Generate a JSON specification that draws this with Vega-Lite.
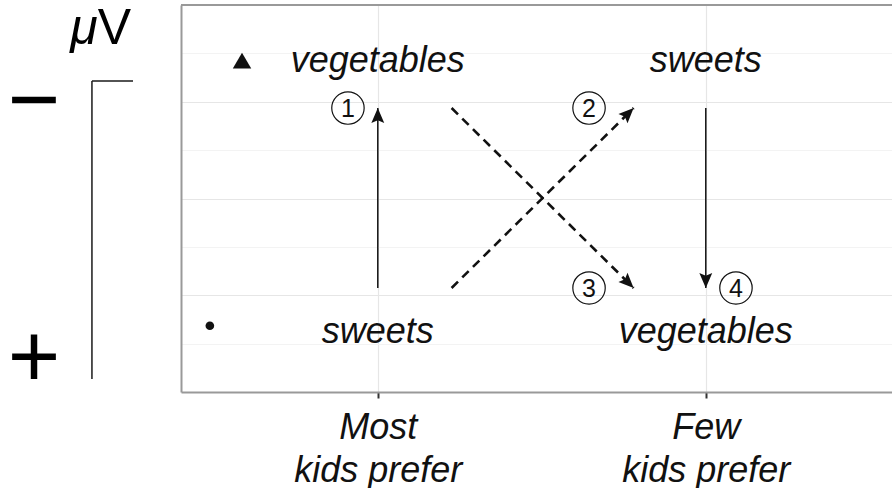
{
  "$schema": "https://vega.github.io/schema/vega-lite/v6.json",
  "padding": {"left": 0, "top": 4, "right": 0, "bottom": 0},
  "background": "white",
  "config": {"font": "Liberation Sans", "view": {"stroke": null}},
  "spacing": 0,
  "bounds": "flush",
  "hconcat": [
    {
      "width": 181,
      "height": 387,
      "layer": [
        {
          "data": {"values": [
            {"part": "stem", "x": 0.508, "x2": 0.508, "y": 6.43, "y2": 0.27},
            {"part": "cap", "x": 0.508, "x2": 0.735, "y": 6.43, "y2": 6.43}
          ]},
          "mark": {"type": "rule", "color": "#1a1a1a", "strokeWidth": 1.5},
          "encoding": {
            "x": {"field": "x", "type": "quantitative", "scale": {"domain": [0, 1], "nice": false, "zero": false}, "axis": null},
            "x2": {"field": "x2"},
            "y": {"field": "y", "type": "quantitative", "scale": {"domain": [0, 8], "nice": false, "zero": false}, "axis": null},
            "y2": {"field": "y2"}
          }
        },
        {
          "data": {"values": [{"label": "μ", "x": 0.54, "y": 7.5}]},
          "mark": {"type": "text", "align": "right", "baseline": "middle", "fontSize": 50, "fontStyle": "italic", "color": "black"},
          "encoding": {
            "x": {"field": "x", "type": "quantitative", "axis": null},
            "y": {"field": "y", "type": "quantitative", "axis": null},
            "text": {"field": "label"}
          }
        },
        {
          "data": {"values": [{"label": "V", "x": 0.54, "y": 7.5}]},
          "mark": {"type": "text", "align": "left", "baseline": "middle", "fontSize": 50, "color": "black"},
          "encoding": {
            "x": {"field": "x", "type": "quantitative", "axis": null},
            "y": {"field": "y", "type": "quantitative", "axis": null},
            "text": {"field": "label"}
          }
        },
        {
          "data": {"values": [
            {"label": "−", "x": 0.188, "y": 5.97},
            {"label": "+", "x": 0.188, "y": 0.66}
          ]},
          "mark": {"type": "text", "align": "center", "baseline": "middle", "fontSize": 90, "color": "black"},
          "encoding": {
            "x": {"field": "x", "type": "quantitative", "axis": null},
            "y": {"field": "y", "type": "quantitative", "axis": null},
            "text": {"field": "label"}
          }
        }
      ]
    },
    {
      "width": 711,
      "height": 387,
      "layer": [
        {
          "data": {"values": [{"edge": "top"}]},
          "mark": {"type": "rule", "color": "#999999", "strokeWidth": 2},
          "encoding": {"y": {"datum": 8, "type": "quantitative"}}
        },
        {
          "data": {"name": "arrows", "values": [
            {"arrow": 1, "style": "solid", "x": 1, "y": 2.15, "x2": 1, "y2": 5.87, "heading": 0},
            {"arrow": 2, "style": "dashed", "x": 1.225, "y": 2.15, "x2": 1.78, "y2": 5.87, "heading": 45.3},
            {"arrow": 3, "style": "dashed", "x": 1.225, "y": 5.87, "x2": 1.78, "y2": 2.15, "heading": 134.7},
            {"arrow": 4, "style": "solid", "x": 2, "y": 5.87, "x2": 2, "y2": 2.15, "heading": 180}
          ]},
          "transform": [{"filter": "datum.style == 'solid'"}],
          "mark": {"type": "rule", "color": "#111111", "strokeWidth": 1.5},
          "encoding": {
            "x": {"field": "x", "type": "quantitative",
              "scale": {"domain": [0.4, 2.5677], "nice": false, "zero": false},
              "axis": {"values": [1, 2], "title": null, "grid": true, "gridColor": "#e6e6e6", "gridWidth": 1.2,
                "domainColor": "#999999", "domainWidth": 2, "tickColor": "#333333", "tickWidth": 2, "tickSize": 6,
                "labelFont": "Liberation Sans", "labelFontStyle": "italic", "labelFontSize": 36, "labelColor": "#111111",
                "labelPadding": 12, "labelBaseline": "top", "labelLineHeight": 43, "labelFlush": false, "labelOverlap": false,
                "labelExpr": "datum.value == 1 ? ['Most', 'kids prefer'] : ['Few', 'kids prefer']"}},
            "x2": {"field": "x2"},
            "y": {"field": "y", "type": "quantitative",
              "scale": {"domain": [0, 8], "nice": false, "zero": false},
              "axis": {"values": [1, 2, 3, 4, 5, 6, 7], "title": null, "labels": false, "ticks": false, "grid": true,
                "gridColor": {"condition": {"test": "datum.value % 2 === 0", "value": "#e6e6e6"}, "value": "#f3f3f3"},
                "gridWidth": 1.2, "domainColor": "#999999", "domainWidth": 2}},
            "y2": {"field": "y2"}
          }
        },
        {
          "data": {"name": "arrows"},
          "transform": [{"filter": "datum.style == 'dashed'"}],
          "mark": {"type": "rule", "color": "#111111", "strokeWidth": 2.6, "strokeDash": [9, 6]},
          "encoding": {
            "x": {"field": "x", "type": "quantitative"},
            "x2": {"field": "x2"},
            "y": {"field": "y", "type": "quantitative"},
            "y2": {"field": "y2"}
          }
        },
        {
          "data": {"name": "arrows"},
          "mark": {"type": "point", "shape": "M0,0 L0.43,1 L0,0.82 L-0.43,1 Z", "filled": true, "color": "#111111", "opacity": 1, "size": 900, "strokeWidth": 0},
          "encoding": {
            "x": {"field": "x2", "type": "quantitative"},
            "y": {"field": "y2", "type": "quantitative"},
            "angle": {"field": "heading", "type": "quantitative", "scale": null}
          }
        },
        {
          "data": {"name": "steps", "values": [
            {"n": "1", "x": 0.909, "y": 5.87},
            {"n": "2", "x": 1.644, "y": 5.87},
            {"n": "3", "x": 1.644, "y": 2.15},
            {"n": "4", "x": 2.092, "y": 2.15}
          ]},
          "mark": {"type": "point", "shape": "circle", "filled": false, "color": "#111111", "opacity": 1, "size": 1050, "strokeWidth": 1.2},
          "encoding": {
            "x": {"field": "x", "type": "quantitative"},
            "y": {"field": "y", "type": "quantitative"}
          }
        },
        {
          "data": {"name": "steps"},
          "mark": {"type": "text", "align": "center", "baseline": "middle", "fontSize": 25, "color": "#111111", "dy": 1},
          "encoding": {
            "x": {"field": "x", "type": "quantitative"},
            "y": {"field": "y", "type": "quantitative"},
            "text": {"field": "n"}
          }
        },
        {
          "data": {"values": [
            {"label": "vegetables", "x": 1, "y": 6.84},
            {"label": "sweets", "x": 2, "y": 6.84},
            {"label": "sweets", "x": 1, "y": 1.23},
            {"label": "vegetables", "x": 2, "y": 1.23}
          ]},
          "mark": {"type": "text", "align": "center", "baseline": "middle", "fontSize": 36, "fontStyle": "italic", "color": "#111111"},
          "encoding": {
            "x": {"field": "x", "type": "quantitative"},
            "y": {"field": "y", "type": "quantitative"},
            "text": {"field": "label"}
          }
        },
        {
          "data": {"values": [{"row": "top", "x": 0.586, "y": 6.85}]},
          "mark": {"type": "point", "shape": "triangle-up", "filled": true, "color": "#111111", "opacity": 1, "size": 340},
          "encoding": {
            "x": {"field": "x", "type": "quantitative"},
            "y": {"field": "y", "type": "quantitative"}
          }
        },
        {
          "data": {"values": [{"row": "bottom", "x": 0.488, "y": 1.37}]},
          "mark": {"type": "point", "shape": "circle", "filled": true, "color": "#111111", "opacity": 1, "size": 75},
          "encoding": {
            "x": {"field": "x", "type": "quantitative"},
            "y": {"field": "y", "type": "quantitative"}
          }
        }
      ]
    }
  ]
}
